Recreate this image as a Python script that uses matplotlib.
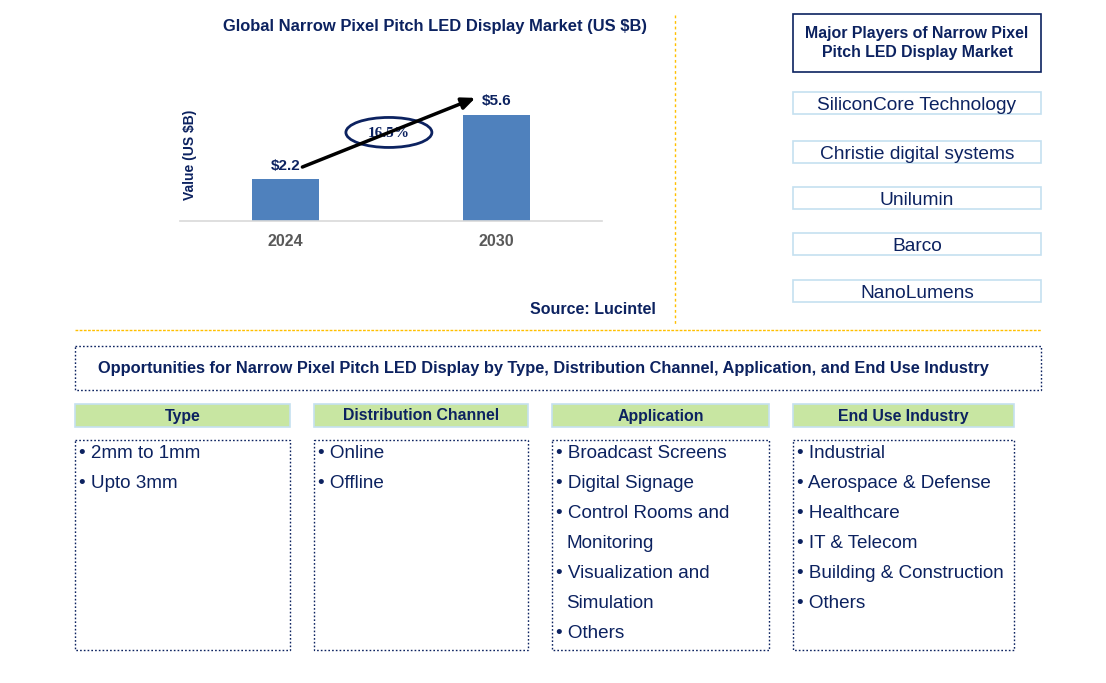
import matplotlib

matplotlib.use("Agg")

import matplotlib.pyplot as plt
from matplotlib.patches import Ellipse, Rectangle

plt.rcParams["font.family"] = ["Liberation Sans", "DejaVu Sans"]

NAVY = "#0C2260"
BAR = "#4F81BD"
GOLD = "#FFC000"
PALE_BLUE = "#C5E0F0"
GREEN = "#C8E6A2"

years = ["2024", "2030"]
values = [2.2, 5.6]
cagr = "16.5%"

players = [
    "SiliconCore Technology",
    "Christie digital systems",
    "Unilumin",
    "Barco",
    "NanoLumens",
]

categories = ["Type", "Distribution Channel", "Application", "End Use Industry"]
segments = [
    ["2mm to 1mm", "Upto 3mm"],
    ["Online", "Offline"],
    ["Broadcast Screens", "Digital Signage", "Control Rooms and\nMonitoring",
     "Visualization and\nSimulation", "Others"],
    ["Industrial", "Aerospace & Defense", "Healthcare", "IT & Telecom",
     "Building & Construction", "Others"],
]

W, H = 1106, 683
fig = plt.figure(figsize=(W / 100, H / 100), dpi=100)

# background axes in pixel coordinates for boxes and text
bg = fig.add_axes([0, 0, 1, 1])
bg.set_xlim(0, W)
bg.set_ylim(H, 0)
bg.axis("off")

# bar chart
ax = fig.add_axes([180 / W, (H - 221) / H, 422 / W, 161 / H])
x = list(range(len(years)))
ax.bar(x, values, width=0.313, color=BAR)
ax.set_xlim(-0.5, 1.5)
ax.set_ylim(0, 8.5)
ax.set_xticks(x)
ax.set_xticklabels(years, fontsize=11.5, fontweight="bold", color="#595959")
ax.tick_params(axis="x", length=0, pad=9)
ax.set_yticks([])
for s in ["top", "right", "left"]:
    ax.spines[s].set_visible(False)
ax.spines["bottom"].set_color("#D9D9D9")
ax.spines["bottom"].set_linewidth(1.2)
ax.patch.set_alpha(0)
for xi, v in zip(x, values):
    ax.text(xi, v + 0.35, f"${v}", ha="center", va="bottom", fontsize=11,
            fontweight="bold", color=NAVY)

a0 = (x[0] + 0.08, values[0] + 0.65)
a1 = (x[1] - 0.1, values[1] + 0.9)
ax.annotate("", xy=a1, xytext=a0,
            arrowprops=dict(arrowstyle="-|>,head_length=0.8,head_width=0.35",
                            color="black", lw=2.5, shrinkA=0, shrinkB=0))
ax.set_ylabel("Value (US $B)", fontsize=10, fontweight="bold", color=NAVY, labelpad=0)
ax.yaxis.set_label_coords(0.04, 0.41)

# ellipse with CAGR at the middle of the arrow
fig.canvas.draw()
mid = ax.transData.transform(((a0[0] + a1[0]) / 2, (a0[1] + a1[1]) / 2))
mx, my = bg.transData.inverted().transform(mid)
bg.add_patch(Ellipse((mx, my), 86, 30, facecolor="white", edgecolor=NAVY, lw=2, zorder=5))
bg.text(mx, my + 1, cagr, ha="center", va="center", fontsize=11, fontweight="bold",
        family=["Liberation Serif", "DejaVu Serif"], color=NAVY, zorder=6)

bg.text(435, 27, "Global Narrow Pixel Pitch LED Display Market (US $B)", ha="center",
        va="center", fontsize=11.9, fontweight="bold", color=NAVY)
bg.text(656, 310, "Source: Lucintel", ha="right", va="center", fontsize=11.5,
        fontweight="bold", color=NAVY)

# separators
bg.plot([675, 675], [15, 325], color=GOLD, lw=1, ls=(0, (2, 2)))
bg.plot([75, 1041], [330, 330], color=GOLD, lw=1, ls=(0, (2, 1)))

# major players
bg.add_patch(Rectangle((793, 14), 248, 58, facecolor="white", edgecolor=NAVY, lw=1.2))
bg.text(917, 43, "Major Players of Narrow Pixel\nPitch LED Display Market", ha="center",
        va="center", fontsize=11.4, fontweight="bold", color=NAVY, linespacing=1.3)
player_tops = [92, 141, 187, 233, 280]
for top, name in zip(player_tops, players):
    bg.add_patch(Rectangle((793, top), 248, 22, facecolor="white", edgecolor=PALE_BLUE, lw=1.2))
    bg.text(917, top + 13.5, name, ha="center", va="center", fontsize=13.8, color=NAVY)

# opportunities
dot = (0, (1.2, 1.5))
bg.add_patch(Rectangle((75, 346), 966, 44, facecolor="none", edgecolor=NAVY, lw=1, ls=dot))
bg.text(543, 368, "Opportunities for Narrow Pixel Pitch LED Display by Type, Distribution "
        "Channel, Application, and End Use Industry", ha="center", va="center",
        fontsize=11.8, fontweight="bold", color=NAVY)

col_x = [(75, 290), (314, 528), (552, 769), (793, 1014)]
for (x0, x1), cat, items in zip(col_x, categories, segments):
    bg.add_patch(Rectangle((x0, 404), x1 - x0, 23, facecolor=GREEN, edgecolor=PALE_BLUE, lw=1.2))
    bg.text((x0 + x1) / 2, 416, cat, ha="center", va="center", fontsize=11.4,
            fontweight="bold", color=NAVY)
    bg.add_patch(Rectangle((x0, 440), x1 - x0, 210, facecolor="none", edgecolor=NAVY,
                           lw=1, ls=dot))
    line = 0
    for item in items:
        parts = item.split("\n")
        for k, part in enumerate(parts):
            if k == 0:
                bg.text(x0 + 4, 454 + 30 * line, "\u2022 " + part, ha="left", va="center",
                        fontsize=13.6, color=NAVY)
            else:
                bg.text(x0 + 14, 454 + 30 * line, part, ha="left", va="center",
                        fontsize=13.6, color=NAVY)
            line += 1

fig.savefig("out.png", dpi=100)
plt.close(fig)
